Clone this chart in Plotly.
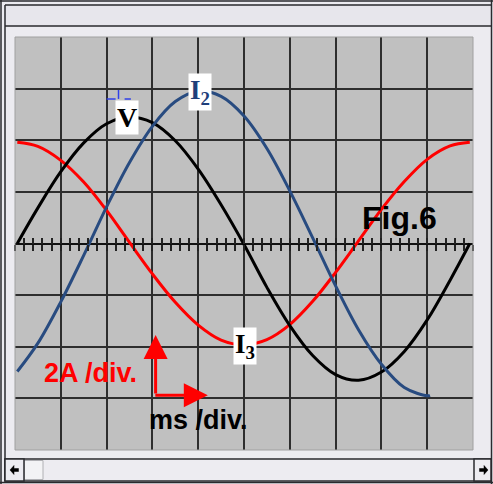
import plotly.graph_objects as go

# Figure and plot-area geometry (pixels)
W, H = 493, 484
ML, MR, MT, MB = 15, 20, 37, 34

# Time axis in divisions (ms/div), 10 divisions across the screen
t_v = [0.05, 0.5, 1, 1.5, 2, 2.5, 3, 3.5, 4, 4.5, 5, 5.5, 6, 6.5, 7, 7.5, 8, 8.5, 9, 9.5, 9.93]
v = [0.0, 0.69, 1.39, 1.95, 2.32, 2.45, 2.34, 1.99, 1.44, 0.75, -0.02,
     -0.85, -1.59, -2.17, -2.54, -2.65, -2.49, -2.09, -1.48, -0.71, 0.0]

t_i2 = [0.05, 0.5, 1, 1.5, 2, 2.5, 3, 3.5, 4, 4.5, 5, 5.5, 6, 6.5, 7, 7.5, 8, 8.5, 9, 9.06]
i2 = [-2.48, -1.93, -1.13, -0.23, 0.71, 1.57, 2.27, 2.75, 2.95, 2.85, 2.47,
      1.84, 1.02, 0.11, -0.82, -1.67, -2.34, -2.79, -2.95, -2.94]

t_i3 = [0.05, 0.5, 1, 1.5, 2, 2.5, 3, 3.5, 4, 4.5, 5, 5.5, 6, 6.5, 7, 7.5, 8, 8.5, 9, 9.5, 9.93]
i3 = [1.96, 1.88, 1.61, 1.19, 0.64, 0.02, -0.59, -1.14, -1.58, -1.87, -1.96,
      -1.86, -1.57, -1.12, -0.56, 0.05, 0.66, 1.20, 1.63, 1.89, 1.96]

X_RANGE = [0, 10]
Y_RANGE = [-4, 4]

RED = "#ff0000"
BLUE = "#284b80"
GRID = "#2e2e2e"


def fx(px):
    return (px - ML) / (W - ML - MR)


def fy(py):
    return (H - MB - py) / (H - MT - MB)


fig = go.Figure()

fig.add_trace(go.Scatter(x=t_i3, y=i3, mode="lines", line=dict(color=RED, width=3, shape="spline"),
                         hoverinfo="skip", showlegend=False))
fig.add_trace(go.Scatter(x=t_v, y=v, mode="lines", line=dict(color="black", width=3, shape="spline"),
                         hoverinfo="skip", showlegend=False))
fig.add_trace(go.Scatter(x=t_i2, y=i2, mode="lines", line=dict(color=BLUE, width=3, shape="spline"),
                         hoverinfo="skip", showlegend=False))

# carrier traces for the centre tick scales (ticks above and below the zero line)
for ax in ("x2", "x3"):
    fig.add_trace(go.Scatter(x=X_RANGE, y=[0, 0], xaxis=ax, yaxis="y", mode="lines",
                             line=dict(width=0, color="rgba(0,0,0,0)"), hoverinfo="skip",
                             showlegend=False))

tick_axis = dict(range=X_RANGE, overlaying="x", anchor="free", position=0.5, dtick=0.2, tick0=0,
                 ticklen=6, tickwidth=1.5, tickcolor="#222222", showticklabels=False,
                 showgrid=False, zeroline=False, showline=False, fixedrange=True)

fig.update_layout(
    width=W, height=H,
    margin=dict(l=ML, r=MR, t=MT, b=MB),
    paper_bgcolor="#ECEBF0",
    plot_bgcolor="#C0C0C0",
    showlegend=False,
    xaxis=dict(range=X_RANGE, dtick=1, tick0=0, showgrid=True, gridcolor=GRID, gridwidth=1.6,
               showticklabels=False, ticks="", zeroline=False, showline=False, fixedrange=True),
    yaxis=dict(range=Y_RANGE, dtick=1, tick0=0, showgrid=True, gridcolor=GRID, gridwidth=1.6,
               showticklabels=False, ticks="", zeroline=True, zerolinecolor="#111111",
               zerolinewidth=2, showline=False, fixedrange=True),
    xaxis2=dict(tick_axis, ticks="outside"),
    xaxis3=dict(tick_axis, ticks="inside"),
)

shapes = []
# screen border
shapes.append(dict(type="rect", xref="paper", yref="paper", x0=0, x1=1, y0=0, y1=1,
                   line=dict(color="#a0a0a0", width=1), layer="above"))
# window header band
shapes.append(dict(type="rect", xref="paper", yref="paper", x0=fx(5), x1=fx(491), y0=fy(5), y1=fy(26),
                   fillcolor="#E7E6EC", line=dict(width=0), layer="below"))
# window frame lines
frame_lines = [
    (1, 0, 1, 484), (5, 5, 5, 481), (491.5, 0, 491.5, 484),
    (0, 1, 493, 1), (5, 5, 491, 5), (5, 26, 491, 26), (0, 482.5, 493, 482.5),
]
for x0, y0, x1, y1 in frame_lines:
    shapes.append(dict(type="line", xref="paper", yref="paper", x0=fx(x0), y0=fy(y0), x1=fx(x1), y1=fy(y1),
                       line=dict(color="#2a2a2e", width=1.5)))
# scrollbar
shapes.append(dict(type="rect", xref="paper", yref="paper", x0=fx(5), x1=fx(491), y0=fy(459), y1=fy(481),
                   fillcolor="#EDECF1", line=dict(color="#2a2a2e", width=1.5)))
shapes.append(dict(type="rect", xref="paper", yref="paper", x0=fx(24), x1=fx(43), y0=fy(460.5), y1=fy(479.5),
                   fillcolor="#F3F3F5", line=dict(color="#b0b0b4", width=1)))
for xa, xb in ((5, 24), (474, 491)):
    shapes.append(dict(type="rect", xref="paper", yref="paper", x0=fx(xa), x1=fx(xb), y0=fy(459), y1=fy(481),
                       fillcolor="#EDECF1", line=dict(color="#2a2a2e", width=1.5)))


def arrow_path(pts):
    return "M " + " L ".join(f"{fx(a):.5f},{fy(b):.5f}" for a, b in pts) + " Z"


left_arrow = [(10, 470), (14, 465.5), (14, 468.5), (18.5, 468.5), (18.5, 471.5), (14, 471.5), (14, 474.5)]
right_arrow = [(488, 470), (484, 465.5), (484, 468.5), (479.5, 468.5), (479.5, 471.5), (484, 471.5), (484, 474.5)]
for pts in (left_arrow, right_arrow):
    shapes.append(dict(type="path", xref="paper", yref="paper", path=arrow_path(pts),
                       fillcolor="black", line=dict(color="black", width=0.5)))

# cursor cross-hair near the voltage peak
shapes.append(dict(type="line", x0=2.0, x1=2.53, y0=2.80, y1=2.80,
                   line=dict(color="#3040e8", width=1.5, dash="dash"), layer="above"))
shapes.append(dict(type="line", x0=2.26, x1=2.26, y0=2.80, y1=3.08,
                   line=dict(color="#3040e8", width=1.5, dash="dash"), layer="above"))

fig.update_layout(shapes=shapes)

serif = "Liberation Serif, Times New Roman, serif"
sans = "Liberation Sans, Arial, sans-serif"

annotations = [
    dict(x=2.445, y=2.45, text="<b>V</b>", font=dict(family=serif, size=28, color="black")),
    dict(x=4.05, y=2.94, text="<b>I<sub>2</sub></b>", font=dict(family=serif, size=27, color="#1f3f7a")),
    dict(x=5.03, y=-1.99, text="<b>I<sub>3</sub></b>", font=dict(family=serif, size=27, color="black")),
]
for a in annotations:
    a.update(showarrow=False, bgcolor="white", borderpad=1, xanchor="center", yanchor="middle")

annotations += [
    dict(x=8.40, y=0.49, text="<b>Fig.6</b>", showarrow=False,
         font=dict(family=sans, size=32, color="black")),
    dict(x=1.64, y=-2.51, text="<b>2A /div.</b>", showarrow=False,
         font=dict(family=sans, size=27, color=RED)),
    dict(x=4.01, y=-3.42, text="<b>ms /div.</b>", showarrow=False,
         font=dict(family=sans, size=27, color="black")),
    # scale arrows
    dict(x=3.07, y=-1.77, ax=0, ay=60, text="", showarrow=True, arrowhead=2, arrowsize=1.6,
         arrowwidth=3, arrowcolor=RED, axref="pixel", ayref="pixel"),
    dict(x=4.21, y=-2.94, ax=-54, ay=0, text="", showarrow=True, arrowhead=2, arrowsize=1.6,
         arrowwidth=3, arrowcolor=RED, axref="pixel", ayref="pixel"),
]
fig.update_layout(annotations=annotations)

fig.write_html("out.html")
